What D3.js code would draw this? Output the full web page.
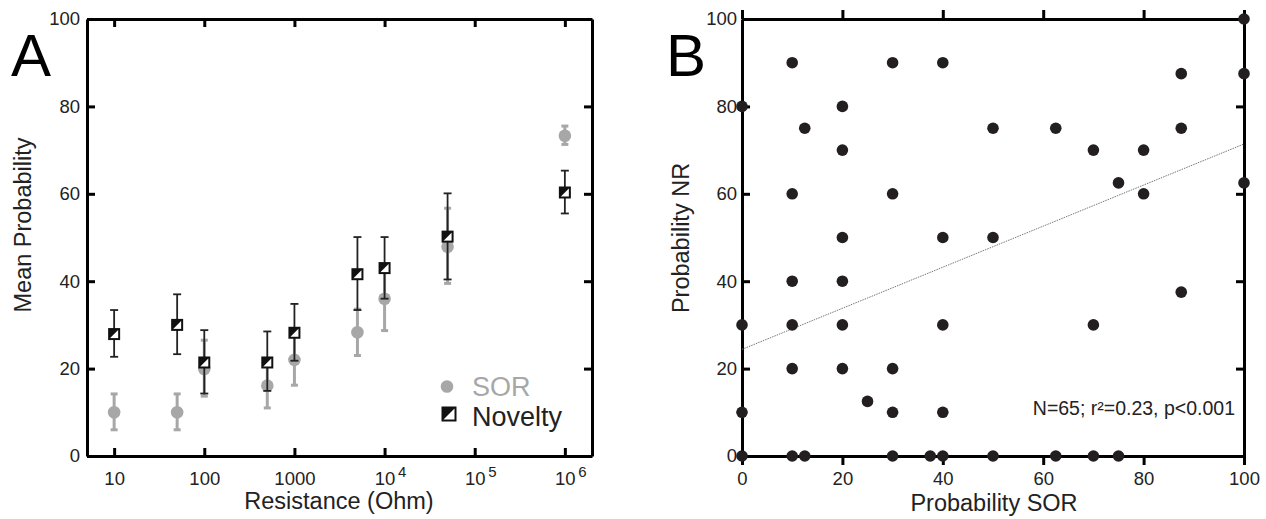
<!DOCTYPE html>
<html>
<head>
<meta charset="utf-8">
<script src="https://cdn.jsdelivr.net/npm/d3@7"></script>
<style>
  body { margin: 0; background: white; }
  svg text { font-family: "Liberation Sans", Arial, Helvetica, sans-serif; fill: #222; }
</style>
</head>
<body>
<svg id="fig" width="1266" height="519"></svg>
<script>
// Panel A: mean probability vs resistance
const resistance = [10, 50, 100, 500, 1000, 5000, 10000, 50000, 1000000];
const sorMean = [10, 10, 19.9, 16.1, 22, 28.3, 36, 47.9, 73.3];
const sorLow  = [6, 6, 13.7, 11, 16.2, 23, 28.7, 39.5, 71.3];
const sorHigh = [14.2, 14.2, 26.5, 21.2, 27.8, 33.6, 43.3, 56.7, 75.5];
const novMean = [27.9, 30, 21.4, 21.4, 28.2, 41.6, 43, 50.2, 60.3];
const novLow  = [22.7, 23.3, 14.3, 14.9, 21.8, 33.4, 36, 40.4, 55.5];
const novHigh = [33.4, 37, 28.8, 28.5, 34.8, 50.1, 50.1, 60.1, 65.3];
const resTicks = [10, 100, 1000, 10000, 100000, 1000000];
const probTicks = [0, 20, 40, 60, 80, 100];

// Panel B: NR vs SOR probability per animal
const sorProb = [10, 30, 40, 0, 20, 12.5, 20, 10, 30, 20, 40, 50, 50, 62.5, 70, 80, 75, 80,
                 87.5, 87.5, 100, 100, 100, 87.5, 70, 10, 20, 0, 10, 20, 40, 10, 20, 30, 25,
                 0, 30, 40, 0, 10, 12.5, 30, 37.5, 40, 50, 62.5, 70, 75];
const nrProb  = [90, 90, 90, 80, 80, 75, 70, 60, 60, 50, 50, 50, 75, 75, 70, 70, 62.5, 60,
                 87.5, 75, 100, 87.5, 62.5, 37.5, 30, 40, 40, 30, 30, 30, 30, 20, 20, 20, 12.5,
                 10, 10, 10, 0, 0, 0, 0, 0, 0, 0, 0, 0, 0];
const fitIntercept = 24.4;
const fitSlope = 0.47;
const statsLabel = "N=65; r\u00b2=0.23, p<0.001";

const svg = d3.select("svg#fig");
const plotTop = 19, plotBottom = 456;
const grey = "#a7a7a8";

const y = d3.scaleLinear().domain([0, 100]).range([plotBottom, plotTop]);

function styleAxis(g) {
    g.select(".domain").attr("stroke", "black").attr("stroke-width", 3);
    g.selectAll(".tick line").attr("stroke", "black").attr("stroke-width", 3);
    g.selectAll(".tick text").attr("font-size", "18.5px").attr("fill", "#222");
}

// ---------- Panel A ----------
const xA = d3.scaleLog().domain([5, 2000000]).range([87, 592]);
const panelA = svg.append("g").attr("class", "panel_a");

panelA.append("g").attr("transform", `translate(0,${plotBottom})`)
      .call(d3.axisBottom(xA).tickValues(resTicks).tickSizeInner(-8).tickSizeOuter(0).tickPadding(16)
            .tickFormat(d => d >= 10000 ? "10" : d3.format("d")(d)))
      .call(styleAxis)
      .call(g => g.selectAll(".tick").filter(d => d >= 10000)
                  .append("text").attr("x", 13).attr("y", 16).attr("dy", "0.3em")
                  .attr("font-size", "15px").attr("text-anchor", "start")
                  .text(d => Math.round(Math.log10(d))));
panelA.append("g").attr("transform", `translate(0,${plotTop})`)
      .call(d3.axisTop(xA).tickValues(resTicks).tickSizeInner(-8).tickSizeOuter(0).tickFormat(""))
      .call(styleAxis);
panelA.append("g").attr("transform", `translate(87,0)`)
      .call(d3.axisLeft(y).tickValues(probTicks).tickSizeInner(-8).tickSizeOuter(0).tickPadding(7))
      .call(styleAxis);
panelA.append("g").attr("transform", `translate(592,0)`)
      .call(d3.axisRight(y).tickValues(probTicks).tickSizeInner(-8).tickSizeOuter(0).tickFormat(""))
      .call(styleAxis);

// SOR error bars and dots
const sorG = panelA.append("g").attr("class", "sor");
sorG.selectAll("line.bar").data(resistance).join("line").attr("class", "bar")
    .attr("x1", d => xA(d)).attr("x2", d => xA(d))
    .attr("y1", (d, i) => y(sorLow[i])).attr("y2", (d, i) => y(sorHigh[i]))
    .attr("stroke", grey).attr("stroke-width", 3);
[sorLow, sorHigh].forEach(arr => {
    sorG.selectAll(null).data(resistance).join("line")
        .attr("x1", d => xA(d) - 3.5).attr("x2", d => xA(d) + 3.5)
        .attr("y1", (d, i) => y(arr[i])).attr("y2", (d, i) => y(arr[i]))
        .attr("stroke", grey).attr("stroke-width", 3);
});
sorG.selectAll("circle").data(resistance).join("circle")
    .attr("cx", d => xA(d)).attr("cy", (d, i) => y(sorMean[i]))
    .attr("r", 6.3).attr("fill", grey);

// Novelty error bars and squares
const novG = panelA.append("g").attr("class", "novelty");
novG.selectAll("line.bar").data(resistance).join("line").attr("class", "bar")
    .attr("x1", d => xA(d)).attr("x2", d => xA(d))
    .attr("y1", (d, i) => y(novLow[i])).attr("y2", (d, i) => y(novHigh[i]))
    .attr("stroke", "#222").attr("stroke-width", 1.8);
[novLow, novHigh].forEach(arr => {
    novG.selectAll(null).data(resistance).join("line")
        .attr("x1", d => xA(d) - 4).attr("x2", d => xA(d) + 4)
        .attr("y1", (d, i) => y(arr[i])).attr("y2", (d, i) => y(arr[i]))
        .attr("stroke", "#222").attr("stroke-width", 1.8);
});

function halfSquare(g, s) {
    g.append("rect").attr("x", -s / 2).attr("y", -s / 2).attr("width", s).attr("height", s)
     .attr("fill", "white").attr("stroke", "#111").attr("stroke-width", 2);
    g.append("path").attr("d", `M${-s/2},${-s/2}L${s/2},${-s/2}L${-s/2},${s/2}Z`).attr("fill", "#111");
}
novG.selectAll("g.mark").data(resistance).join("g").attr("class", "mark")
    .attr("transform", (d, i) => `translate(${xA(d)},${y(novMean[i])})`)
    .each(function() { halfSquare(d3.select(this), 10); });

// legend
const legend = panelA.append("g").attr("class", "legend");
legend.append("circle").attr("cx", 447).attr("cy", 386.5).attr("r", 6.3).attr("fill", grey);
legend.append("text").attr("x", 472).attr("y", 395.5).attr("font-size", "27px")
      .style("fill", grey).text("SOR");
halfSquare(legend.append("g").attr("transform", "translate(449,414)"), 13);
legend.append("text").attr("x", 472).attr("y", 425.5).attr("font-size", "27px").text("Novelty");

panelA.append("text").attr("x", 339).attr("y", 509).attr("text-anchor", "middle")
      .attr("font-size", "23.5px").text("Resistance (Ohm)");
panelA.append("text").attr("transform", "translate(31,225) rotate(-90)").attr("text-anchor", "middle")
      .attr("font-size", "23.5px").text("Mean Probability");
panelA.append("text").attr("x", 11).attr("y", 76).attr("font-size", "60px").style("fill", "black").text("A");

// ---------- Panel B ----------
const xB = d3.scaleLinear().domain([0, 100]).range([742, 1244]);
const panelB = svg.append("g").attr("class", "panel_b");

panelB.append("g").attr("transform", `translate(0,${plotBottom})`)
      .call(d3.axisBottom(xB).tickValues(probTicks).tickSizeInner(9).tickSizeOuter(0).tickPadding(7))
      .call(styleAxis);
panelB.append("g").attr("transform", `translate(0,${plotTop})`)
      .call(d3.axisTop(xB).tickValues(probTicks).tickSizeInner(9).tickSizeOuter(0).tickFormat(""))
      .call(styleAxis);
panelB.append("g").attr("transform", `translate(742,0)`)
      .call(d3.axisLeft(y).tickValues(probTicks).tickSizeInner(-8).tickSizeOuter(0).tickPadding(5))
      .call(styleAxis);
panelB.append("g").attr("transform", `translate(1244,0)`)
      .call(d3.axisRight(y).tickValues(probTicks).tickSizeInner(-8).tickSizeOuter(0).tickFormat(""))
      .call(styleAxis);

// regression line
panelB.append("line")
      .attr("x1", xB(0)).attr("y1", y(fitIntercept))
      .attr("x2", xB(100)).attr("y2", y(fitIntercept + fitSlope * 100))
      .attr("stroke", "#777").attr("stroke-width", 1).attr("stroke-dasharray", "1.5,1");

panelB.selectAll("circle.dot").data(sorProb).join("circle").attr("class", "dot")
      .attr("cx", d => xB(d)).attr("cy", (d, i) => y(nrProb[i]))
      .attr("r", 5.8).attr("fill", "#231f20");

panelB.append("text").attr("x", 1235).attr("y", 415).attr("text-anchor", "end")
      .attr("font-size", "19.5px").text(statsLabel);
panelB.append("text").attr("x", 994).attr("y", 511).attr("text-anchor", "middle")
      .attr("font-size", "23.5px").text("Probability SOR");
panelB.append("text").attr("transform", "translate(689,238) rotate(-90)").attr("text-anchor", "middle")
      .attr("font-size", "23.5px").text("Probability NR");
panelB.append("text").attr("x", 666).attr("y", 76).attr("font-size", "60px").style("fill", "black").text("B");
</script>
</body>
</html>
